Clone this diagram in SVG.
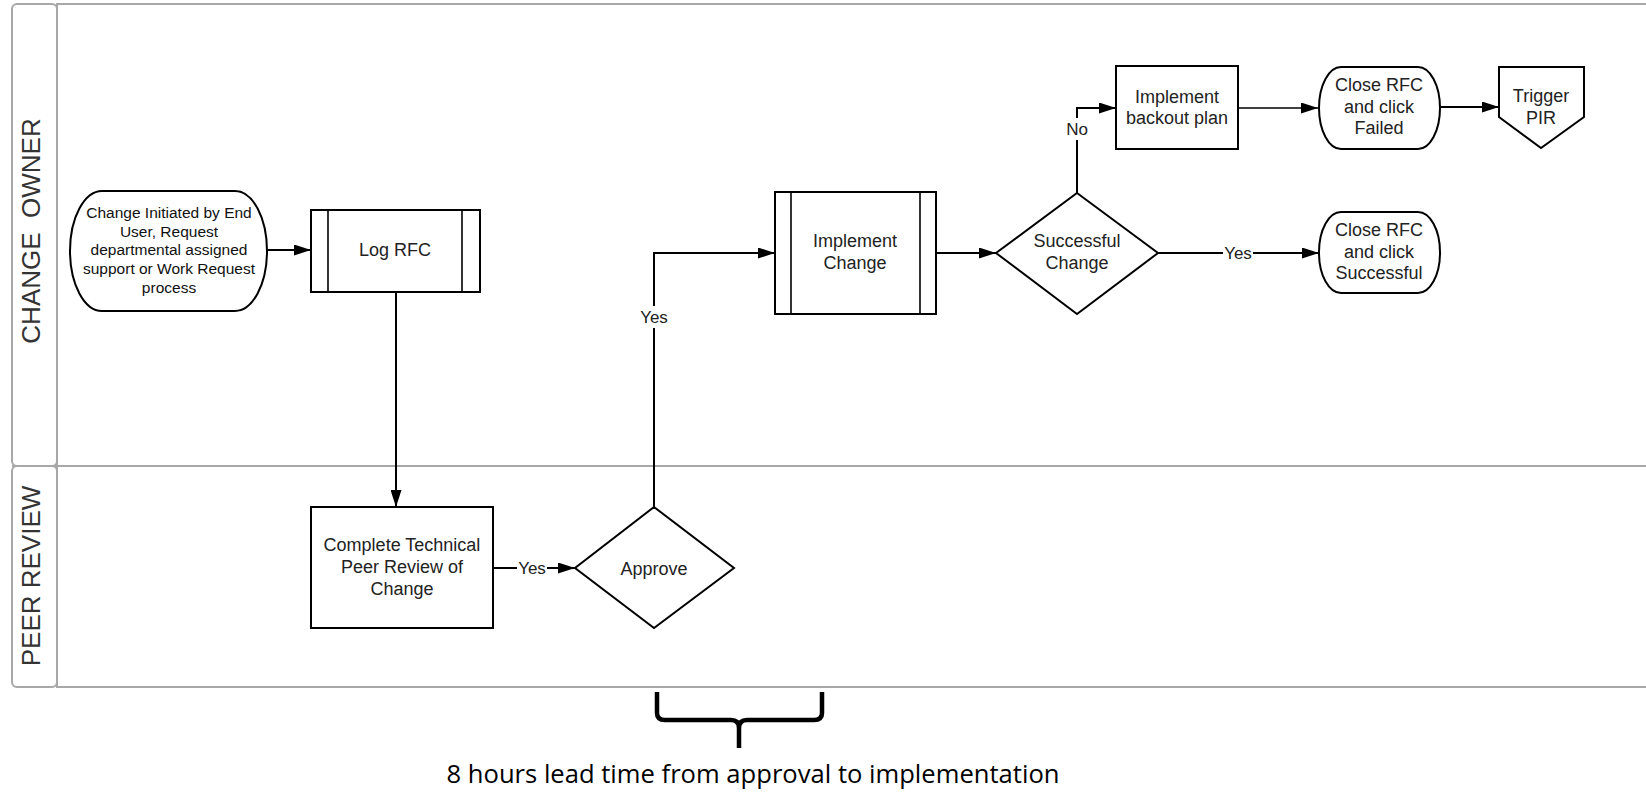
<svg xmlns="http://www.w3.org/2000/svg" width="1646" height="794" viewBox="0 0 1646 794">
<style>
.lane{fill:none;stroke:#a8a8a8;stroke-width:2}
.lanetxt{font-family:"Liberation Sans",Arial,sans-serif;font-size:26px;fill:#333;text-anchor:middle;white-space:pre}
.shape{fill:#fff;stroke:#000;stroke-width:2}
.inner{fill:none;stroke:#000;stroke-width:1.6}
.t{font-family:"Liberation Sans",Arial,sans-serif;font-size:18px;fill:#222;text-anchor:middle}
.ts{font-family:"Liberation Sans",Arial,sans-serif;font-size:15.5px;fill:#111;text-anchor:middle}
.conn{fill:none;stroke:#000;stroke-width:2}
.lbl{font-family:"Liberation Sans",Arial,sans-serif;font-size:17px;fill:#222;text-anchor:middle}
.lblbg{fill:#fff}
</style>
<defs>
<marker id="arr" markerUnits="userSpaceOnUse" markerWidth="17" markerHeight="11" refX="17" refY="5.5" orient="auto">
<path d="M0,0 L17,5.5 L0,11 z" fill="#000"/>
</marker>
</defs>
<rect width="1646" height="794" fill="#fff"/>
<g id="swimlanes">
<rect class="lane" x="57" y="4" width="1620" height="683"/>
<line class="lane" x1="12" y1="466" x2="1646" y2="466"/>
<rect class="lane" x="12" y="4" width="45" height="462" rx="5"/>
<rect class="lane" x="12" y="466" width="45" height="221" rx="5"/>
<text class="lanetxt" transform="translate(40,231) rotate(-90)">CHANGE  OWNER</text>
<text class="lanetxt" transform="translate(40,576) rotate(-90)">PEER REVIEW</text>
</g>
<g id="connectors">
<path class="conn" d="M267,250 L311,250" marker-end="url(#arr)"/>
<path class="conn" d="M396,292 L396,507" marker-end="url(#arr)"/>
<path class="conn" d="M493,568 L575,568" marker-end="url(#arr)"/>
<path class="conn" d="M654,507 L654,253 L775,253" marker-end="url(#arr)"/>
<path class="conn" d="M936,253 L996,253" marker-end="url(#arr)"/>
<path class="conn" d="M1158,253 L1319,253" marker-end="url(#arr)"/>
<path class="conn" d="M1077,193 L1077,108 L1116,108" marker-end="url(#arr)"/>
<path class="conn" d="M1238,108 L1318,108" style="stroke-width:1.6" marker-end="url(#arr)"/>
<path class="conn" d="M1440,107 L1499,107" marker-end="url(#arr)"/>
<rect class="lblbg" x="517" y="558" width="30" height="20"/>
<text class="lbl" x="532" y="574">Yes</text>
<rect class="lblbg" x="639" y="306" width="30" height="22"/>
<text class="lbl" x="654" y="323">Yes</text>
<rect class="lblbg" x="1223" y="243" width="30" height="20"/>
<text class="lbl" x="1238" y="259">Yes</text>
<rect class="lblbg" x="1065" y="118" width="24" height="22"/>
<text class="lbl" x="1077" y="135">No</text>
</g>
<g id="start">
<rect class="shape" x="70" y="191" width="197" height="120" rx="32" ry="60"/>
<text class="ts" x="169" y="217.5">Change Initiated by End</text>
<text class="ts" x="169" y="236.5">User, Request</text>
<text class="ts" x="169" y="254.5">departmental assigned</text>
<text class="ts" x="169" y="273.5">support or Work Request</text>
<text class="ts" x="169" y="292.5">process</text>
</g>
<g id="log-rfc">
<rect class="shape" x="311" y="210" width="169" height="82"/>
<line class="inner" x1="328" y1="210" x2="328" y2="292"/>
<line class="inner" x1="462" y1="210" x2="462" y2="292"/>
<text class="t" x="395" y="255.5">Log RFC</text>
</g>
<g id="peer-review">
<rect class="shape" x="311" y="507" width="182" height="121"/>
<text class="t" x="402" y="550.5">Complete Technical</text>
<text class="t" x="402" y="572.5">Peer Review of</text>
<text class="t" x="402" y="594.5">Change</text>
</g>
<g id="approve">
<polygon class="shape" points="654,507 734,568 654,628 575,568"/>
<text class="t" x="654" y="574.5">Approve</text>
</g>
<g id="implement-change">
<rect class="shape" x="775" y="192" width="161" height="122"/>
<line class="inner" x1="791" y1="192" x2="791" y2="314"/>
<line class="inner" x1="920" y1="192" x2="920" y2="314"/>
<text class="t" x="855" y="246.5">Implement</text>
<text class="t" x="855" y="268.5">Change</text>
</g>
<g id="successful-change">
<polygon class="shape" points="1077,193 1158,253 1077,314 996,253"/>
<text class="t" x="1077" y="246.5">Successful</text>
<text class="t" x="1077" y="268.5">Change</text>
</g>
<g id="backout">
<rect class="shape" x="1116" y="66" width="122" height="83"/>
<text class="t" x="1177" y="102.5">Implement</text>
<text class="t" x="1177" y="123.5">backout plan</text>
</g>
<g id="close-failed">
<rect class="shape" x="1319" y="67" width="121" height="82" rx="22" ry="41"/>
<text class="t" x="1379" y="90.5">Close RFC</text>
<text class="t" x="1379" y="112.5">and click</text>
<text class="t" x="1379" y="133.5">Failed</text>
</g>
<g id="trigger-pir">
<polygon class="shape" points="1499,67 1584,67 1584,117 1541,148 1499,117"/>
<text class="t" x="1541" y="101.5">Trigger</text>
<text class="t" x="1541" y="123.5">PIR</text>
</g>
<g id="close-successful">
<rect class="shape" x="1319" y="212" width="121" height="81" rx="22" ry="40"/>
<text class="t" x="1379" y="235.5">Close RFC</text>
<text class="t" x="1379" y="257.5">and click</text>
<text class="t" x="1379" y="278.5">Successful</text>
</g>
<g id="lead-time">
<path d="M657,692 L657,713 Q657,720 665,720 L731,720 Q739,720 739,728 L739,748 M739,728 Q739,720 747,720 L814,720 Q822,720 822,713 L822,692" fill="none" stroke="#000" stroke-width="4.5"/>
<text x="753" y="783" font-family="'Open Sans',Lato,sans-serif" font-size="25" fill="#000" text-anchor="middle" textLength="613" lengthAdjust="spacingAndGlyphs">8 hours lead time from approval to implementation</text>
</g>
</svg>
